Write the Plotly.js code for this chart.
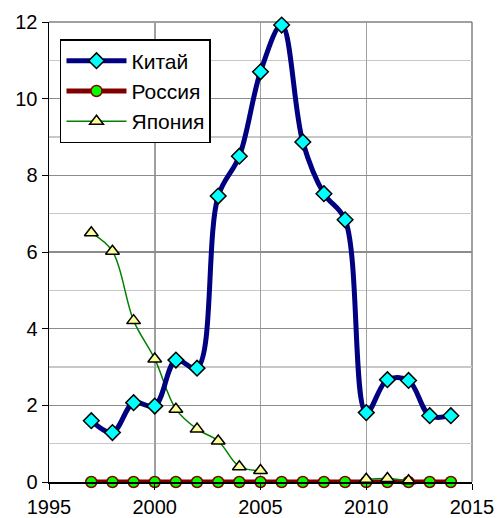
<!DOCTYPE html>
<html>
<head>
<meta charset="utf-8">
<script src="https://cdn.plot.ly/plotly-3.0.1.min.js"></script>
<style>html,body{margin:0;padding:0;background:#fff;}</style>
</head>
<body>
<div id="chart" style="width:497px;height:518px;"></div>
<script>
const years = [1997,1998,1999,2000,2001,2002,2003,2004,2005,2006,2007,2008,2009,2010,2011,2012,2013,2014];
const china = [1.60,1.29,2.07,1.98,3.18,2.97,7.46,8.50,10.70,11.92,8.87,7.52,6.84,1.81,2.67,2.65,1.73,1.73];
const russia = [0,0,0,0,0,0,0,0,0,0,0,0,0,0,0,0,0,0];
const japan = [6.50,6.02,4.21,3.21,1.90,1.38,1.07,0.40,0.30,null,null,null,null,0.07,0.09,0.03,null,null];
const names = ['Китай','Россия','Япония'];

const traces = [
  {x: years, y: russia, name: names[1], type: 'scatter', mode: 'lines+markers', legendrank: 2, cliponaxis: false,
   line: {color: '#800000', width: 5, shape: 'spline'},
   marker: {symbol: 'circle', size: 11, color: '#00ff00', line: {color: '#800000', width: 1.5}}},
  {x: years, y: japan, name: names[2], type: 'scatter', mode: 'lines+markers', legendrank: 3, cliponaxis: false,
   connectgaps: false,
   line: {color: '#008000', width: 1.5, shape: 'spline', smoothing: 1},
   marker: {symbol: 'triangle-up', size: 12, color: '#ffff99', line: {color: '#000000', width: 1.5}}},
  {x: years, y: china, name: names[0], type: 'scatter', mode: 'lines+markers', legendrank: 1, cliponaxis: false,
   line: {color: '#000080', width: 5, shape: 'spline', smoothing: 1},
   marker: {symbol: 'diamond', size: 12, color: '#00ffff', line: {color: '#000000', width: 1.5}}}
];

const layout = {
  width: 497, height: 518,
  margin: {l: 49, r: 25, t: 22, b: 36},
  paper_bgcolor: '#ffffff', plot_bgcolor: '#ffffff',
  font: {family: '"Liberation Sans", Arial, sans-serif', size: 20, color: '#000'},
  showlegend: true,
  legend: {x: 0.026, y: 0.963, xanchor: 'left', yanchor: 'top',
           bgcolor: '#ffffff', bordercolor: '#000000', borderwidth: 1.5,
           font: {size: 21}, tracegroupgap: 0, itemwidth: 60},
  xaxis: {range: [1995, 2015], dtick: 5, tick0: 1995, showgrid: true, gridcolor: '#a0a0a0', gridwidth: 1.5,
          showline: true, linecolor: '#000', linewidth: 1.5, ticks: 'outside', ticklen: 6, tickcolor: '#000',
          zeroline: false, tickfont: {size: 20}},
  yaxis: {range: [0, 12], dtick: 2, showgrid: true, gridcolor: '#8c8c8c', gridwidth: 1.5,
          minor: {dtick: 1, showgrid: true, gridcolor: '#c8c8c8', gridwidth: 1.5},
          showline: true, linecolor: '#000', linewidth: 1.5, ticks: 'outside', ticklen: 6, tickcolor: '#000',
          zeroline: false, tickfont: {size: 20}},
  shapes: [
    {type: 'line', xref: 'paper', yref: 'paper', x0: 0, x1: 1, y0: 1, y1: 1, line: {color: '#808080', width: 1.5}, layer: 'below'},
    {type: 'line', xref: 'paper', yref: 'paper', x0: 1, x1: 1, y0: 0, y1: 1, line: {color: '#808080', width: 1.5}, layer: 'below'}
  ]
};

Plotly.newPlot('chart', traces, layout, {displayModeBar: false, staticPlot: true});
</script>
</body>
</html>
